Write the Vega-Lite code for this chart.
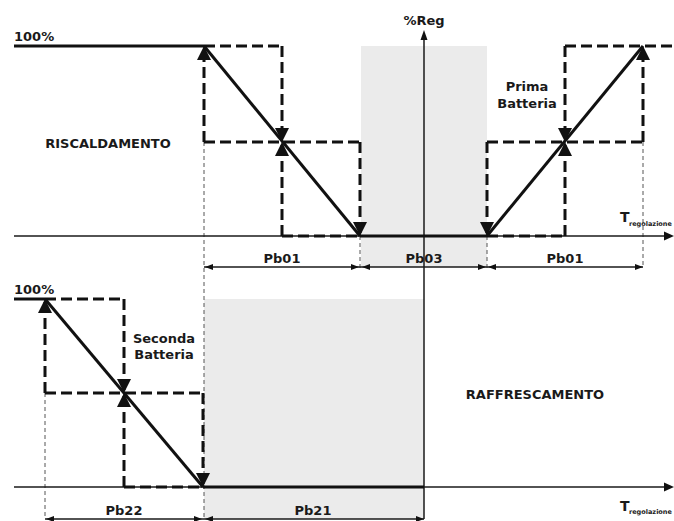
{
  "$schema": "https://vega.github.io/schema/vega-lite/v6.json",
  "width": 674,
  "height": 521,
  "autosize": {"type": "none"},
  "padding": 0,
  "background": "white",
  "config": {"view": {"stroke": null}},
  "datasets": {
    "rects": [
      {"x": 361, "x2": 487, "y": 46, "y2": 267},
      {"x": 204, "x2": 424, "y": 299, "y2": 519}
    ],
    "guides": [
      {"x": 204, "y": 142, "x2": 204, "y2": 519},
      {"x": 360, "y": 236, "x2": 360, "y2": 268},
      {"x": 487, "y": 236, "x2": 487, "y2": 268},
      {"x": 643, "y": 142, "x2": 643, "y2": 268},
      {"x": 45, "y": 393, "x2": 45, "y2": 519}
    ],
    "thin": [
      {"x": 14, "y": 236, "x2": 668, "y2": 236},
      {"x": 14, "y": 487, "x2": 668, "y2": 487},
      {"x": 424, "y": 38, "x2": 424, "y2": 519},
      {"x": 204, "y": 267, "x2": 643, "y2": 267},
      {"x": 45, "y": 519, "x2": 424, "y2": 519}
    ],
    "dashed": [
      {"x": 204, "y": 46, "x2": 282, "y2": 46},
      {"x": 282, "y": 46, "x2": 282, "y2": 142},
      {"x": 204, "y": 142, "x2": 204, "y2": 46},
      {"x": 204, "y": 142, "x2": 360, "y2": 142},
      {"x": 282, "y": 236, "x2": 282, "y2": 142},
      {"x": 282, "y": 236, "x2": 360, "y2": 236},
      {"x": 360, "y": 142, "x2": 360, "y2": 236},
      {"x": 487, "y": 142, "x2": 487, "y2": 236},
      {"x": 487, "y": 142, "x2": 643, "y2": 142},
      {"x": 643, "y": 142, "x2": 643, "y2": 46},
      {"x": 565, "y": 46, "x2": 674, "y2": 46},
      {"x": 565, "y": 46, "x2": 565, "y2": 142},
      {"x": 565, "y": 236, "x2": 565, "y2": 142},
      {"x": 487, "y": 236, "x2": 565, "y2": 236},
      {"x": 45, "y": 299, "x2": 124, "y2": 299},
      {"x": 124, "y": 299, "x2": 124, "y2": 393},
      {"x": 45, "y": 393, "x2": 45, "y2": 299},
      {"x": 45, "y": 393, "x2": 203, "y2": 393},
      {"x": 124, "y": 487, "x2": 124, "y2": 393},
      {"x": 124, "y": 487, "x2": 203, "y2": 487},
      {"x": 203, "y": 393, "x2": 203, "y2": 487}
    ],
    "thick": [
      {"x": 14, "y": 46, "x2": 204, "y2": 46},
      {"x": 204, "y": 46, "x2": 360, "y2": 236},
      {"x": 360, "y": 236, "x2": 487, "y2": 236},
      {"x": 487, "y": 236, "x2": 643, "y2": 46},
      {"x": 14, "y": 299, "x2": 45, "y2": 299},
      {"x": 45, "y": 299, "x2": 203, "y2": 487},
      {"x": 203, "y": 487, "x2": 424, "y2": 487}
    ],
    "arrows": [
      {"x": 204, "y": 46, "dir": "bigUp"},
      {"x": 282, "y": 142, "dir": "bigUp"},
      {"x": 643, "y": 46, "dir": "bigUp"},
      {"x": 565, "y": 142, "dir": "bigUp"},
      {"x": 45, "y": 299, "dir": "bigUp"},
      {"x": 124, "y": 393, "dir": "bigUp"},
      {"x": 282, "y": 142, "dir": "bigDown"},
      {"x": 360, "y": 236, "dir": "bigDown"},
      {"x": 487, "y": 236, "dir": "bigDown"},
      {"x": 565, "y": 142, "dir": "bigDown"},
      {"x": 124, "y": 393, "dir": "bigDown"},
      {"x": 203, "y": 487, "dir": "bigDown"},
      {"x": 205, "y": 267, "dir": "dimLeft"},
      {"x": 362, "y": 267, "dir": "dimLeft"},
      {"x": 488, "y": 267, "dir": "dimLeft"},
      {"x": 46, "y": 519, "dir": "dimLeft"},
      {"x": 205, "y": 519, "dir": "dimLeft"},
      {"x": 359, "y": 267, "dir": "dimRight"},
      {"x": 486, "y": 267, "dir": "dimRight"},
      {"x": 643, "y": 267, "dir": "dimRight"},
      {"x": 202, "y": 519, "dir": "dimRight"},
      {"x": 424, "y": 519, "dir": "dimRight"},
      {"x": 674, "y": 236, "dir": "axRight"},
      {"x": 674, "y": 487, "dir": "axRight"},
      {"x": 424, "y": 30, "dir": "axUp"}
    ],
    "labelsC": [
      {"x": 424, "y": 25, "text": "%Reg"},
      {"x": 527, "y": 91, "text": "Prima"},
      {"x": 527, "y": 108, "text": "Batteria"},
      {"x": 164, "y": 343, "text": "Seconda"},
      {"x": 164, "y": 359, "text": "Batteria"},
      {"x": 535, "y": 399, "text": "RAFFRESCAMENTO"},
      {"x": 108, "y": 148, "text": "RISCALDAMENTO"},
      {"x": 282, "y": 263, "text": "Pb01"},
      {"x": 424, "y": 263, "text": "Pb03"},
      {"x": 565, "y": 263, "text": "Pb01"},
      {"x": 124, "y": 515, "text": "Pb22"},
      {"x": 313, "y": 515, "text": "Pb21"}
    ],
    "labelsL": [
      {"x": 14, "y": 41, "text": "100%"},
      {"x": 14, "y": 294, "text": "100%"}
    ],
    "tMain": [
      {"x": 620, "y": 222, "text": "T"},
      {"x": 620, "y": 511, "text": "T"}
    ],
    "tSub": [
      {"x": 629, "y": 226, "text": "regolazione"},
      {"x": 629, "y": 514, "text": "regolazione"}
    ]
  },
  "encoding": {
    "x": {"field": "x", "type": "quantitative", "axis": null, "scale": {"domain": [0, 674], "nice": false, "zero": false}},
    "y": {"field": "y", "type": "quantitative", "axis": null, "scale": {"domain": [0, 521], "nice": false, "zero": false, "reverse": true}}
  },
  "layer": [
    {
      "data": {"name": "rects"},
      "mark": {"type": "rect", "color": "#ebebeb"},
      "encoding": {"x2": {"field": "x2"}, "y2": {"field": "y2"}}
    },
    {
      "data": {"name": "guides"},
      "mark": {"type": "rule", "color": "#555555", "strokeWidth": 1, "strokeDash": [4, 3]},
      "encoding": {"x2": {"field": "x2"}, "y2": {"field": "y2"}}
    },
    {
      "data": {"name": "thin"},
      "mark": {"type": "rule", "color": "#1a1a1a", "strokeWidth": 1.5},
      "encoding": {"x2": {"field": "x2"}, "y2": {"field": "y2"}}
    },
    {
      "data": {"name": "dashed"},
      "mark": {"type": "rule", "color": "#111111", "strokeWidth": 3, "strokeDash": [11, 5]},
      "encoding": {"x2": {"field": "x2"}, "y2": {"field": "y2"}}
    },
    {
      "data": {"name": "thick"},
      "mark": {"type": "rule", "color": "#111111", "strokeWidth": 3},
      "encoding": {"x2": {"field": "x2"}, "y2": {"field": "y2"}}
    },
    {
      "data": {"name": "arrows"},
      "mark": {"type": "point", "filled": true, "opacity": 1, "size": 100, "color": "#111111", "strokeWidth": 0},
      "encoding": {
        "shape": {
          "field": "dir",
          "type": "nominal",
          "legend": null,
          "scale": {
            "domain": ["bigUp", "bigDown", "dimLeft", "dimRight", "axRight", "axUp"],
            "range": [
              "M0,0L-1.4,2.8L1.4,2.8Z",
              "M0,0L-1.4,-2.8L1.4,-2.8Z",
              "M0,0L1.6,-0.6L1.6,0.6Z",
              "M0,0L-1.6,-0.6L-1.6,0.6Z",
              "M0,0L-2,-0.9L-2,0.9Z",
              "M0,0L-0.7,2L0.7,2Z"
            ]
          }
        }
      }
    },
    {
      "data": {"name": "labelsC"},
      "mark": {"type": "text", "font": "DejaVu Sans", "fontWeight": "bold", "fontSize": 13, "align": "center", "baseline": "alphabetic", "color": "#1a1a1a"},
      "encoding": {"text": {"field": "text"}}
    },
    {
      "data": {"name": "labelsL"},
      "mark": {"type": "text", "font": "DejaVu Sans", "fontWeight": "bold", "fontSize": 13, "align": "left", "baseline": "alphabetic", "color": "#1a1a1a"},
      "encoding": {"text": {"field": "text"}}
    },
    {
      "data": {"name": "tMain"},
      "mark": {"type": "text", "font": "DejaVu Sans", "fontWeight": "bold", "fontSize": 14, "align": "left", "baseline": "alphabetic", "color": "#1a1a1a"},
      "encoding": {"text": {"field": "text"}}
    },
    {
      "data": {"name": "tSub"},
      "mark": {"type": "text", "font": "DejaVu Sans", "fontWeight": "bold", "fontSize": 6.5, "align": "left", "baseline": "alphabetic", "color": "#1a1a1a"},
      "encoding": {"text": {"field": "text"}}
    }
  ]
}
